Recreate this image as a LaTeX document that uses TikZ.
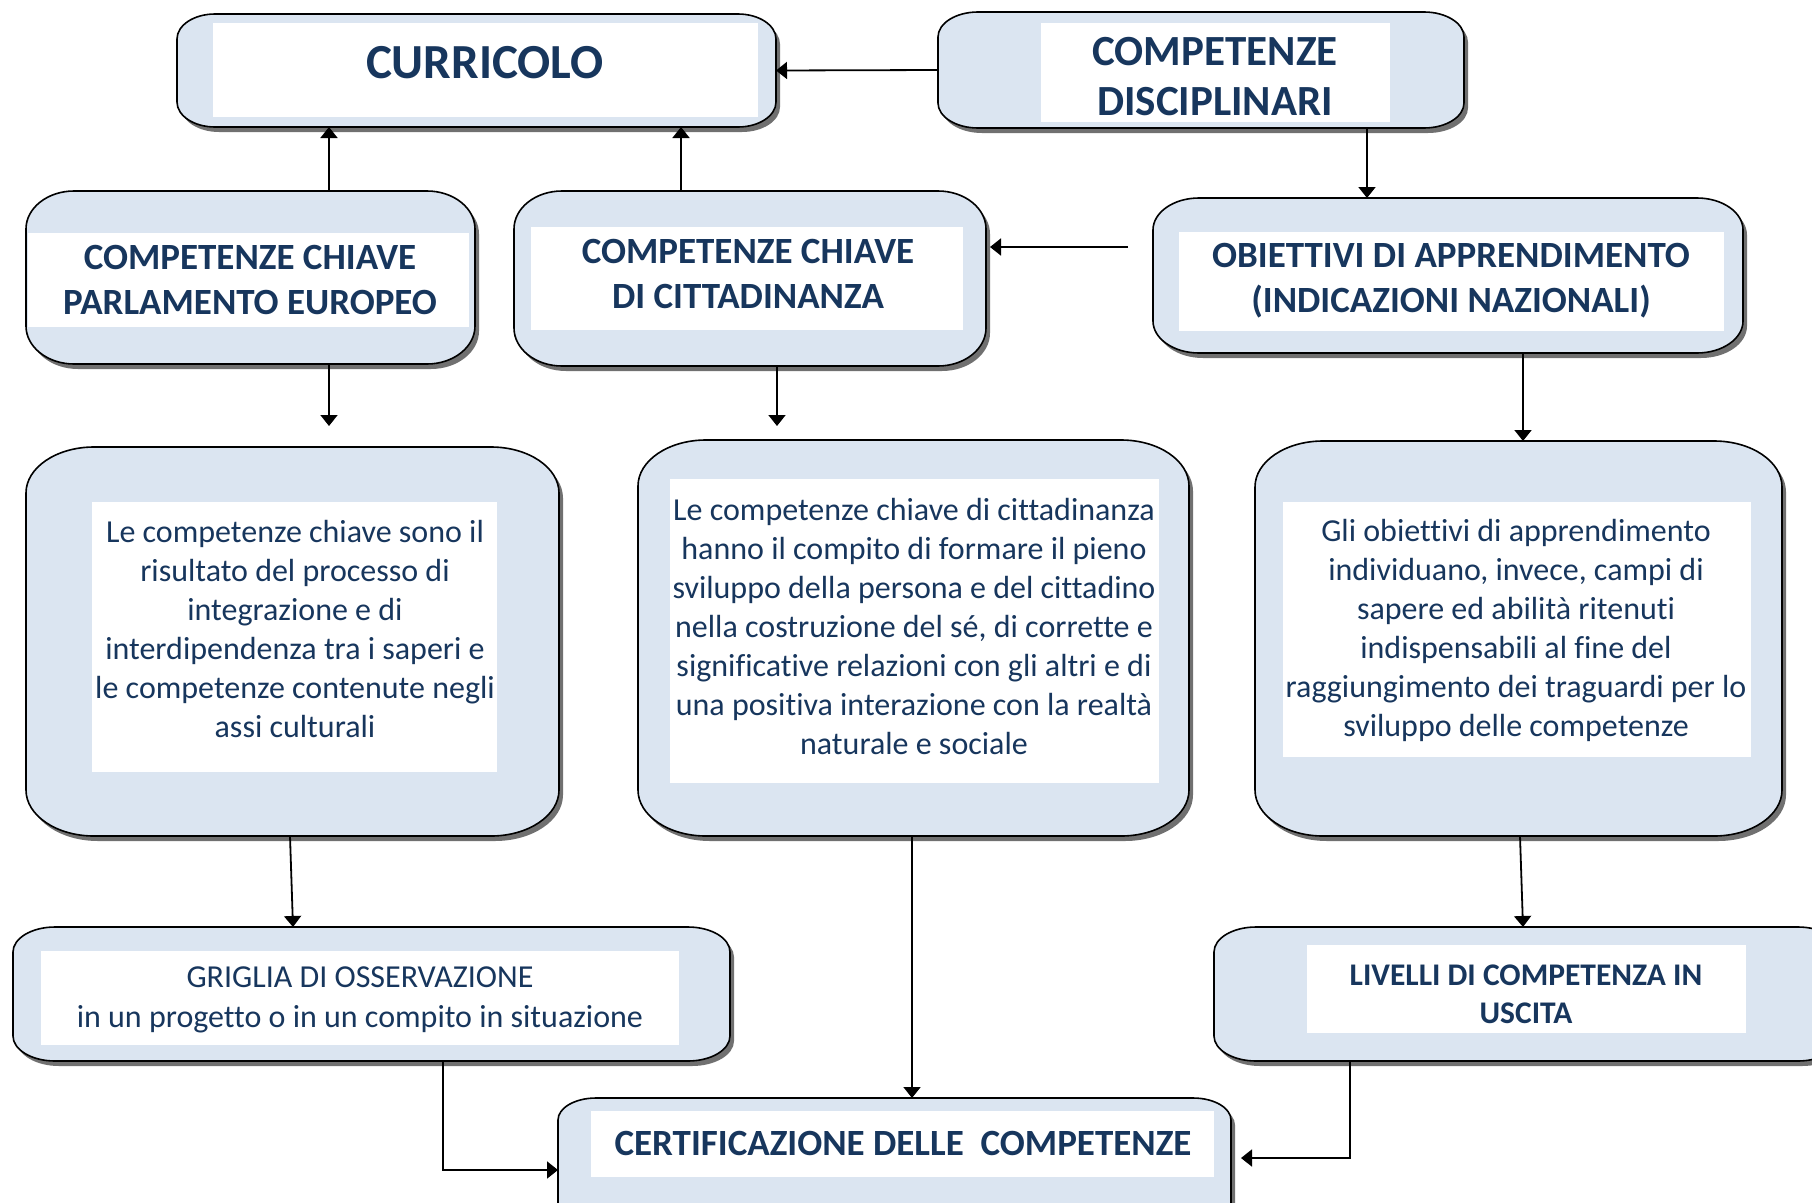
\documentclass[tikz,border=0pt]{standalone}
\usepackage{fontspec}
\setmainfont{Carlito}[Ligatures=NoCommon]
\usetikzlibrary{arrows.meta,calc}
\definecolor{navy}{RGB}{23,54,93}
\definecolor{boxfill}{RGB}{219,229,241}
\definecolor{shadowc}{RGB}{112,112,112}
\tikzset{
  boxc/.style={fill=boxfill,draw=black,line width=1.6pt},
  shad/.style={fill=shadowc},
  anchorbox/.style={draw=none,fill=none,inner sep=0pt,outer sep=0pt},
  wbox/.style={draw=none,fill=white,inner sep=0pt,outer sep=0pt},
  txt/.style={text=navy,align=center,inner sep=0pt},
  arr/.style={draw=black,line width=1.8pt,-{Triangle[length=11pt,width=17pt]}},
}
% #1 name, #2 x1, #3 y1, #4 x2, #5 y2, #6 rx, #7 ry
\newcommand\RBox[7]{%
  \fill[shad,shift={(4,5)}] ({#2+#6},#3) -- ({#4-#6},#3)
    arc[start angle=90,end angle=0,x radius=#6pt,y radius=#7pt] -- (#4,{#5-#7})
    arc[start angle=0,end angle=-90,x radius=#6pt,y radius=#7pt] -- ({#2+#6},#5)
    arc[start angle=270,end angle=180,x radius=#6pt,y radius=#7pt] -- (#2,{#3+#7})
    arc[start angle=180,end angle=90,x radius=#6pt,y radius=#7pt] -- cycle;
  \path[boxc] ({#2+#6},#3) -- ({#4-#6},#3)
    arc[start angle=90,end angle=0,x radius=#6pt,y radius=#7pt] -- (#4,{#5-#7})
    arc[start angle=0,end angle=-90,x radius=#6pt,y radius=#7pt] -- ({#2+#6},#5)
    arc[start angle=270,end angle=180,x radius=#6pt,y radius=#7pt] -- (#2,{#3+#7})
    arc[start angle=180,end angle=90,x radius=#6pt,y radius=#7pt] -- cycle;
  \node[anchorbox,minimum width={(#4-#2)*1pt},minimum height={(#5-#3)*1pt}] (#1) at ({(#2+#4)/2},{(#3+#5)/2}) {};
}
% #1 name, #2 x1, #3 y1, #4 x2, #5 y2
\newcommand\WBox[5]{%
  \node[wbox,minimum width={(#4-#2)*1pt},minimum height={(#5-#3)*1pt}] (#1) at ({(#2+#4)/2},{(#3+#5)/2}) {};
}
\begin{document}
\begin{tikzpicture}[x=1pt,y=-1pt]
\useasboundingbox (0,0) rectangle (1812,1202);
\clip (0,0) rectangle (1812,1202);
\fill[white] (0,0) rectangle (1812,1202);

% top row
\RBox{curr}{177}{14}{776}{127}{38}{25}
\WBox{currw}{213}{23}{758}{117}
\node[txt,font=\bfseries\fontsize{49}{58}\selectfont] (currt) at (485,63) {CURRICOLO};

\RBox{disc}{938}{12}{1464}{128}{40}{25}
\WBox{discw}{1041}{23}{1390}{122}
\node[txt,font=\bfseries\fontsize{43}{50}\selectfont] (disct) at (1215,77) {COMPETENZE\\DISCIPLINARI};

% second row
\RBox{parl}{26}{191}{475}{364}{48}{38}
\WBox{parlw}{28}{233}{469}{327}
\node[txt,font=\bfseries\fontsize{37}{45}\selectfont] (parlt) at (250,280) {COMPETENZE CHIAVE\\PARLAMENTO EUROPEO};

\RBox{citt}{514}{191}{986}{366}{48}{38}
\WBox{cittw}{531}{227}{963}{330}
\node[txt,font=\bfseries\fontsize{37}{45}\selectfont] (cittt) at (748,274) {COMPETENZE CHIAVE\\DI CITTADINANZA};

\RBox{obie}{1153}{198}{1743}{353}{46}{32}
\WBox{obiew}{1179}{232}{1724}{331}
\node[txt,font=\bfseries\fontsize{37}{45}\selectfont] (obiet) at (1451,281) {OBIETTIVI DI APPRENDIMENTO\\(INDICAZIONI NAZIONALI)};

% third row
\RBox{bigA}{26}{447}{559}{836}{68}{46}
\WBox{bigAw}{92}{502}{497}{772}
\node[txt,font=\fontsize{32}{39}\selectfont] (bigAt) at (295,629) {Le competenze chiave sono il\\risultato del processo di\\integrazione e di\\interdipendenza tra i saperi e\\le competenze contenute negli\\assi culturali};

\RBox{bigB}{638}{440}{1189}{836}{68}{46}
\WBox{bigBw}{670}{479}{1159}{783}
\node[txt,font=\fontsize{32}{39}\selectfont] (bigBt) at (914,626) {Le competenze chiave di cittadinanza\\hanno il compito di formare il pieno\\sviluppo della persona e del cittadino\\nella costruzione del sé, di corrette e\\significative relazioni con gli altri e di\\una positiva interazione con la realtà\\naturale e sociale};

\RBox{bigC}{1255}{441}{1782}{836}{68}{46}
\WBox{bigCw}{1283}{502}{1751}{757}
\node[txt,font=\fontsize{32}{39}\selectfont] (bigCt) at (1516,630) {Gli obiettivi di apprendimento\\individuano, invece, campi di\\sapere ed abilità ritenuti\\indispensabili al fine del\\raggiungimento dei traguardi per lo\\sviluppo delle competenze};

% fourth row
\RBox{grig}{13}{927}{730}{1061}{42}{25}
\WBox{grigw}{41}{951}{679}{1045}
\node[txt,font=\fontsize{32}{40}\selectfont] (grigt) at (360,1000) {GRIGLIA DI OSSERVAZIONE\\in un progetto o in un compito in situazione};

\RBox{liv}{1214}{927}{1840}{1061}{42}{25}
\WBox{livw}{1307}{945}{1746}{1033}
\node[txt,font=\bfseries\fontsize{31.5}{38}\selectfont] (livt) at (1526,994) {LIVELLI DI COMPETENZA IN\\USCITA};

% bottom
\RBox{cert}{558}{1098}{1231}{1230}{38}{22}
\WBox{certw}{591}{1111}{1214}{1177}
\node[txt,font=\bfseries\fontsize{37}{45}\selectfont] (certt) at (903,1143) {CERTIFICAZIONE DELLE\ \ COMPETENZE};

% connectors
\draw[arr] (disc.west) -- (curr.east);
\draw[arr] ([xshift=78.5pt]parl.north) -- ([xshift=78.5pt]parl.north |- curr.south);
\draw[arr] ([xshift=-69pt]citt.north) -- ([xshift=-69pt]citt.north |- curr.south);
\draw[arr] ([xshift=166pt]disc.south) -- ([xshift=166pt]disc.south |- obie.north);
\coordinate (oc) at (1128,247);
\draw[arr] (oc) -- ($(oc -| citt.east)+(4,0)$);
\coordinate (pe) at (329,426);
\draw[arr] ([xshift=78.5pt]parl.south) -- (pe);
\coordinate (ce) at (777,426);
\draw[arr] ([xshift=27pt]citt.south) -- (ce);
\draw[arr] ([xshift=75pt]obie.south) -- ([xshift=75pt]obie.south |- bigC.north);
\draw[arr] ([xshift=-2.5pt]bigA.south) -- ([xshift=-78.5pt]grig.north);
\draw[arr] ([xshift=-1.5pt]bigB.south) -- ([xshift=-1.5pt]bigB.south |- cert.north);
\draw[arr] ([xshift=1.5pt]bigC.south) -- ([xshift=-4pt]liv.north);
\draw[arr] ([xshift=71.5pt]grig.south) |- ([yshift=-6pt]cert.west);
\draw[arr] ([xshift=-177pt]liv.south) |- ($([yshift=6pt]cert.east)+(10,0)$);
\end{tikzpicture}
\end{document}
